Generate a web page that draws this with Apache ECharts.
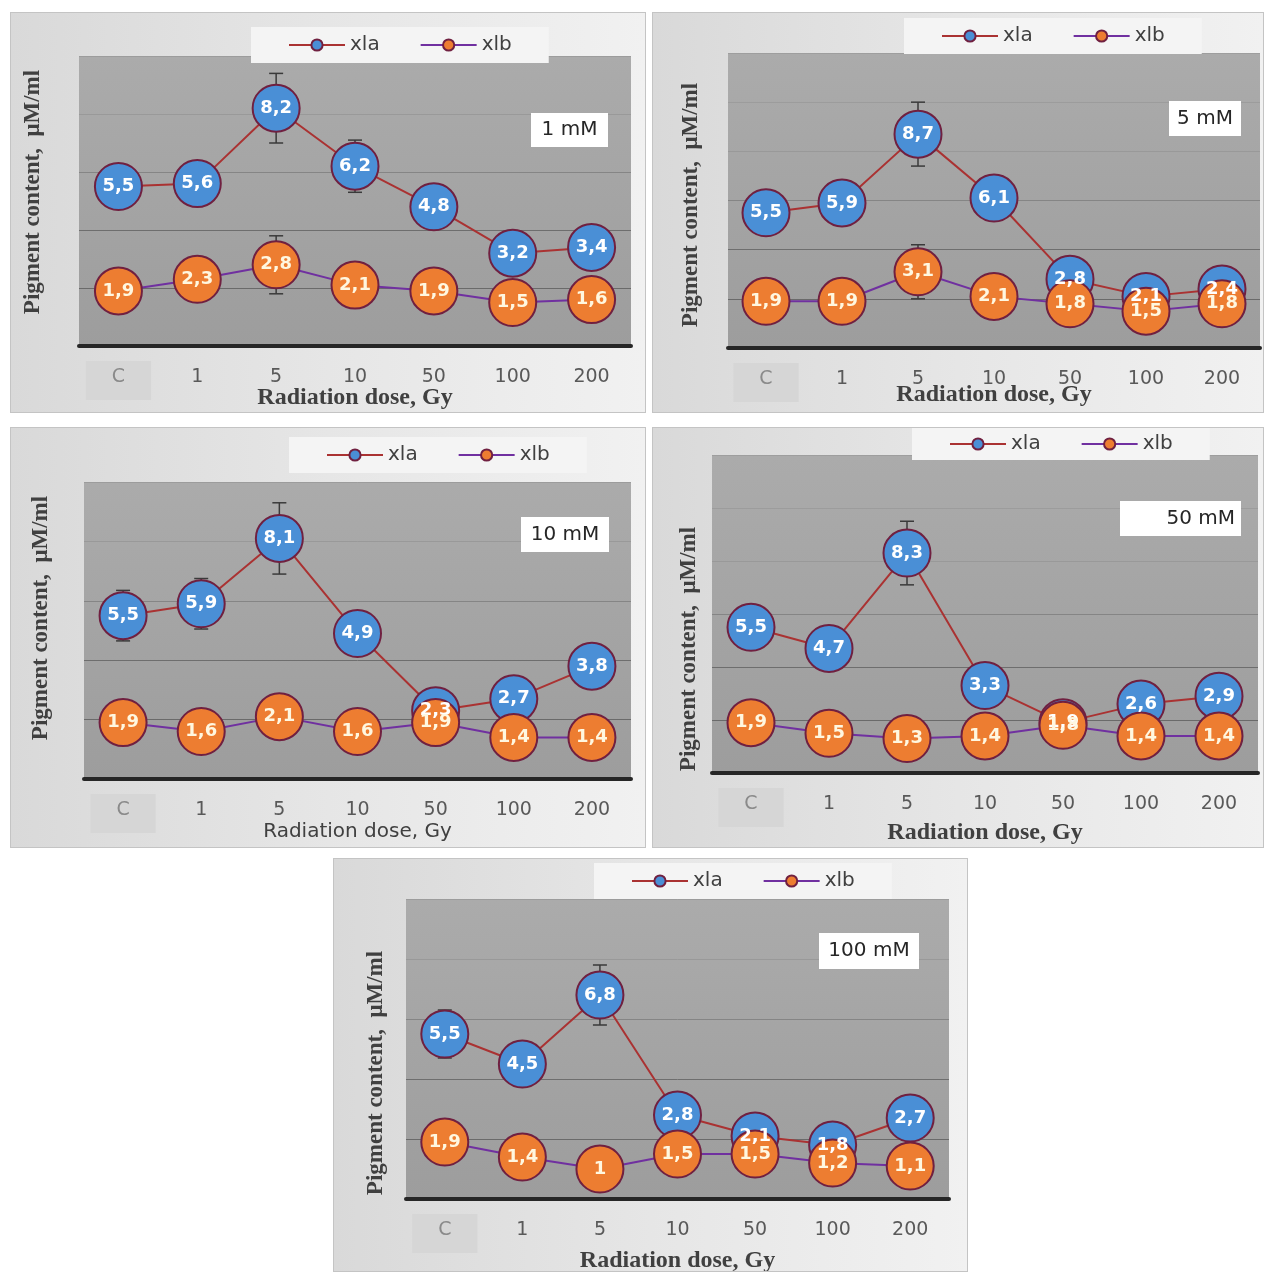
<!DOCTYPE html>
<html>
<head>
<meta charset="utf-8">
<script src="https://cdn.jsdelivr.net/npm/echarts@6/dist/echarts.min.js"></script>
<style>
    body { margin: 0; background: #fff; width: 1264px; height: 1272px; position: relative; overflow: hidden; }
    .panel { position: absolute; box-sizing: border-box; border: 1px solid #c4c4c4;
             background: linear-gradient(90deg, #d9d9d9 0%, #e6e6e6 50%, #f1f1f1 100%); }
</style>
</head>
<body>
<div id="p1" class="panel" style="left:10px;top:12px;width:636px;height:401px"></div>
<div id="p2" class="panel" style="left:652px;top:12px;width:612px;height:401px"></div>
<div id="p3" class="panel" style="left:10px;top:427px;width:636px;height:421px"></div>
<div id="p4" class="panel" style="left:652px;top:427px;width:612px;height:421px"></div>
<div id="p5" class="panel" style="left:333px;top:858px;width:635px;height:414px"></div>
<script>
    // радиационные дозы (категории оси X)
    const doses = ['C', '1', '5', '10', '50', '100', '200'];
    const seriesNames = ['xla', 'xlb'];
    const xTitle = 'Radiation dose, Gy';
    const yTitle = 'Pigment content,  μM/ml';
    const yStep = 2;

    // 1 mM
    const xla1 = [5.5, 5.6, 8.2, 6.2, 4.8, 3.2, 3.4];
    const xlb1 = [1.9, 2.3, 2.8, 2.1, 1.9, 1.5, 1.6];
    const errA1 = [0, 0, 1.2, 0.9, 0, 0, 0];
    const errB1 = [0, 0, 1.0, 0, 0, 0, 0];
    // 5 mM
    const xla5 = [5.5, 5.9, 8.7, 6.1, 2.8, 2.1, 2.4];
    const xlb5 = [1.9, 1.9, 3.1, 2.1, 1.8, 1.5, 1.8];
    const errA5 = [0, 0, 1.3, 0, 0, 0, 0];
    const errB5 = [0, 0, 1.1, 0, 0, 0, 0];
    // 10 mM
    const xla10 = [5.5, 5.9, 8.1, 4.9, 2.3, 2.7, 3.8];
    const xlb10 = [1.9, 1.6, 2.1, 1.6, 1.9, 1.4, 1.4];
    const errA10 = [0.85, 0.85, 1.2, 0, 0, 0, 0];
    const errB10 = [0, 0, 0, 0, 0, 0, 0];
    // 50 mM
    const xla50 = [5.5, 4.7, 8.3, 3.3, 1.9, 2.6, 2.9];
    const xlb50 = [1.9, 1.5, 1.3, 1.4, 1.8, 1.4, 1.4];
    const errA50 = [0, 0, 1.2, 0, 0, 0, 0];
    const errB50 = [0, 0, 0, 0, 0, 0, 0];
    // 100 mM
    const xla100 = [5.5, 4.5, 6.8, 2.8, 2.1, 1.8, 2.7];
    const xlb100 = [1.9, 1.4, 1, 1.5, 1.5, 1.2, 1.1];
    const errA100 = [0.8, 0, 1.0, 0, 0, 0, 0];
    const errB100 = [0, 0, 0, 0, 0, 0, 0];

    // раскладка панелей
    const panels = [
        { id: 'p1', note: '1 mM', xla: xla1, xlb: xlb1, errA: errA1, errB: errB1, yMax: 10,
          grid: [68, 43, 552, 290], legend: [240, 14, 8], noteBox: [520, 100, 77, 34, 'center'],
          yTitlePos: [22, 179], nameGap: 40, serif: true },
        { id: 'p2', note: '5 mM', xla: xla5, xlb: xlb5, errA: errA5, errB: errB5, yMax: 12,
          grid: [75, 40, 532, 295], legend: [251, 5, 8], noteBox: [516, 88, 72, 35, 'center'],
          yTitlePos: [38, 192], nameGap: 35, serif: true },
        { id: 'p3', note: '10 mM', xla: xla10, xlb: xlb10, errA: errA10, errB: errB10, yMax: 10,
          grid: [73, 54, 547, 297], legend: [278, 9, 8], noteBox: [510, 89, 88, 35, 'center'],
          yTitlePos: [30, 190], nameGap: 43, serif: false },
        { id: 'p4', note: '50 mM', xla: xla50, xlb: xlb50, errA: errA50, errB: errB50, yMax: 12,
          grid: [59, 27, 546, 318], legend: [259, 0, 6], noteBox: [467, 73, 121, 35, 'right'],
          yTitlePos: [36, 221], nameGap: 48, serif: true },
        { id: 'p5', note: '100 mM', xla: xla100, xlb: xlb100, errA: errA100, errB: errB100, yMax: 10,
          grid: [72, 40, 543, 300], legend: [260, 4, 8], noteBox: [485, 74, 100, 36, 'center'],
          yTitlePos: [42, 214], nameGap: 50, serif: true }
    ];

    const sansFont = "'DejaVu Sans', sans-serif";
    const serifFont = "'Liberation Serif', 'Times New Roman', serif";

    // планки погрешностей
    function renderErr(params, api) {
        const e = api.value(2);
        if (!e) return;
        const hi = api.coord([api.value(0), api.value(1) + e]);
        const lo = api.coord([api.value(0), api.value(1) - e]);
        const w = 7;
        const st = { stroke: '#3a3a3a', lineWidth: 1.5 };
        return {
            type: 'group',
            children: [
                { type: 'line', shape: { x1: hi[0], y1: hi[1], x2: lo[0], y2: lo[1] }, style: st },
                { type: 'line', shape: { x1: hi[0] - w, y1: hi[1], x2: hi[0] + w, y2: hi[1] }, style: st },
                { type: 'line', shape: { x1: lo[0] - w, y1: lo[1], x2: lo[0] + w, y2: lo[1] }, style: st }
            ]
        };
    }

    function lineSeries(name, data, fill, lineColor, textColor) {
        return {
            name: name,
            type: 'line',
            data: data,
            symbol: 'circle',
            symbolSize: 47,
            showAllSymbol: true,
            z: 3,
            lineStyle: { color: lineColor, width: 2 },
            itemStyle: { color: fill, borderColor: '#702040', borderWidth: 2 },
            label: {
                show: true,
                position: 'inside',
                formatter: p => String(p.value).replace('.', ','),
                color: textColor,
                fontSize: 18,
                fontWeight: 'bold',
                fontFamily: sansFont
            }
        };
    }

    function buildOption(p) {
        const nb = p.noteBox;
        return {
            animation: false,
            grid: {
                left: p.grid[0], top: p.grid[1], width: p.grid[2], height: p.grid[3],
                outerBoundsMode: 'none',
                containLabel: false,
                show: true, borderWidth: 0,
                backgroundColor: {
                    type: 'linear', x: 0, y: 0, x2: 0, y2: 1,
                    colorStops: [{ offset: 0, color: '#ababab' }, { offset: 1, color: '#9d9d9d' }]
                }
            },
            legend: {
                data: seriesNames,
                left: p.legend[0], top: p.legend[1],
                padding: [p.legend[2], 37],
                backgroundColor: '#f4f4f4',
                itemWidth: 56, itemHeight: 14, itemGap: 40,
                textStyle: { fontSize: 20, color: '#404040', fontFamily: sansFont }
            },
            xAxis: {
                type: 'category',
                data: doses,
                boundaryGap: true,
                axisLine: { lineStyle: { color: '#262626', width: 4 } },
                axisTick: { show: false },
                axisLabel: {
                    interval: 0,
                    margin: 15,
                    formatter: (v, i) => i === 0 ? '{c|' + v + '}' : '{n|' + v + '}',
                    rich: {
                        c: { backgroundColor: '#d6d6d6', color: '#8a8a8a', padding: [7, 26, 13, 26], fontSize: 19, fontFamily: sansFont },
                        n: { color: '#595959', padding: [7, 0, 13, 0], fontSize: 19, fontFamily: sansFont }
                    }
                },
                name: xTitle,
                nameLocation: 'middle',
                nameGap: p.nameGap,
                nameMoveOverlap: false,
                nameTextStyle: p.serif
                    ? { fontFamily: serifFont, fontWeight: 'bold', fontSize: 24, color: '#404040' }
                    : { fontFamily: sansFont, fontSize: 20, color: '#404040' }
            },
            yAxis: {
                type: 'value',
                min: 0, max: p.yMax, interval: yStep,
                axisLine: { show: false },
                axisTick: { show: false },
                axisLabel: { show: false },
                splitLine: {
                    lineStyle: { color: ['rgba(0,0,0,0)', '#6a6a6a', '#6e6e6e', '#858585', '#999999', '#9c9c9c', '#9e9e9e'], width: 1 }
                }
            },
            graphic: [
                {
                    type: 'text',
                    x: p.yTitlePos[0], y: p.yTitlePos[1],
                    rotation: Math.PI / 2,
                    style: { text: yTitle, fill: '#404040', font: 'bold 23px ' + serifFont, align: 'center', verticalAlign: 'middle' }
                },
                {
                    type: 'group',
                    left: nb[0], top: nb[1],
                    z: 100,
                    children: [
                        { type: 'rect', z: 100, shape: { x: 0, y: 0, width: nb[2], height: nb[3] }, style: { fill: '#ffffff' } },
                        {
                            type: 'text', z: 101,
                            x: nb[4] === 'right' ? nb[2] - 6 : nb[2] / 2, y: nb[3] / 2,
                            style: { text: p.note, fill: '#262626', font: '20px ' + sansFont, align: nb[4], verticalAlign: 'middle' }
                        }
                    ]
                }
            ],
            series: [
                { type: 'custom', renderItem: renderErr, z: 1, encode: { x: 0, y: 1 },
                  data: doses.map((d, i) => [i, p.xla[i], p.errA[i]]) },
                { type: 'custom', renderItem: renderErr, z: 1, encode: { x: 0, y: 1 },
                  data: doses.map((d, i) => [i, p.xlb[i], p.errB[i]]) },
                lineSeries('xla', p.xla, '#4a8fd6', '#aa3232', '#ffffff'),
                lineSeries('xlb', p.xlb, '#ed7d31', '#7030a0', '#fff7e0')
            ]
        };
    }

    panels.forEach(p => {
        const chart = echarts.init(document.getElementById(p.id));
        chart.setOption(buildOption(p));
    });
</script>
</body>
</html>
